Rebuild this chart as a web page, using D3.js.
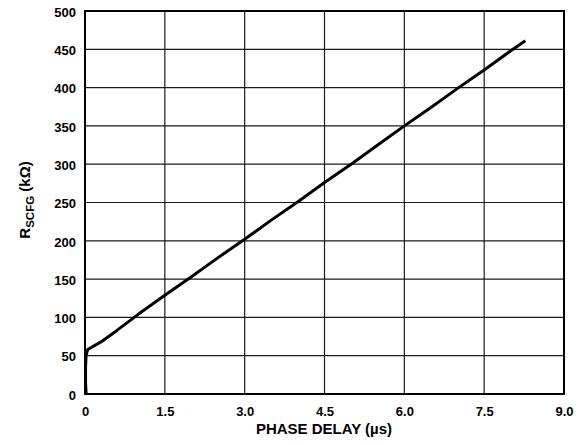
<!DOCTYPE html>
<html>
<head>
<meta charset="utf-8">
<script src="https://cdn.jsdelivr.net/npm/d3@7"></script>
<style>
html,body{margin:0;padding:0;background:#fff;}
text{font-family:"Liberation Sans",Arial,sans-serif;font-weight:bold;fill:#000;}
</style>
</head>
<body>
<svg id="chart" width="584" height="445"></svg>
<script>
const phaseDelay = [0.02, 0.01, 0.01, 0.02, 0.05, 0.3, 0.6, 1.0, 1.5, 2.0, 2.5, 3.0, 3.5, 4.0, 4.5, 5.0, 5.5, 6.0, 6.5, 7.0, 7.5, 8.0, 8.25];
const rscfg = [2, 15, 35, 50, 58, 68, 83, 104, 129, 153, 178, 202, 227, 251, 276, 300, 325, 350, 374, 399, 423, 448, 460];
const xTicks = [0, 1.5, 3.0, 4.5, 6.0, 7.5, 9.0];
const xTickLabels = ["0", "1.5", "3.0", "4.5", "6.0", "7.5", "9.0"];
const yTicks = [0, 50, 100, 150, 200, 250, 300, 350, 400, 450, 500];

const svg = d3.select("#chart");
const m = {left: 85, right: 564, top: 11, bottom: 394};
const x = d3.scaleLinear().domain([0, 9]).range([m.left, m.right]);
const y = d3.scaleLinear().domain([0, 500]).range([m.bottom, m.top]);

// gridlines
const grid = svg.append("g");
grid.selectAll("line.v").data(xTicks.slice(1, -1)).join("line")
  .attr("x1", d => x(d)).attr("x2", d => x(d))
  .attr("y1", m.top).attr("y2", m.bottom)
  .attr("stroke", "#1a1a1a").attr("stroke-width", 1.2);
grid.selectAll("line.h").data(yTicks.slice(1, -1)).join("line")
  .attr("x1", m.left).attr("x2", m.right)
  .attr("y1", d => y(d)).attr("y2", d => y(d))
  .attr("stroke", "#1a1a1a").attr("stroke-width", 1.2);

// frame
svg.append("rect").attr("x", m.left).attr("y", m.top)
  .attr("width", m.right - m.left).attr("height", m.bottom - m.top)
  .attr("fill", "none").attr("stroke", "#000").attr("stroke-width", 2);

// axes labels via d3 axes
const xAxis = d3.axisBottom(x).tickValues(xTicks).tickSize(0).tickPadding(0)
  .tickFormat((d, i) => xTickLabels[i]);
const gx = svg.append("g").attr("transform", `translate(0,${m.bottom})`).call(xAxis);
gx.select(".domain").remove();
gx.selectAll("text").attr("dy", null).attr("y", 22).attr("font-size", 13).attr("font-family", null);

const yAxis = d3.axisLeft(y).tickValues(yTicks).tickSize(0).tickPadding(0).tickFormat(d3.format("d"));
const gy = svg.append("g").attr("transform", `translate(${m.left},0)`).call(yAxis);
gy.select(".domain").remove();
gy.selectAll("text").attr("x", -9).attr("dy", "0.4em").attr("font-size", 13).attr("font-family", null);

// data line
svg.append("path").datum(rscfg)
  .attr("d", d3.line().x((d, i) => x(phaseDelay[i])).y(d => y(d)))
  .attr("fill", "none").attr("stroke", "#000").attr("stroke-width", 3)
  .attr("stroke-linejoin", "round").attr("stroke-linecap", "square");

// axis titles
svg.append("text").attr("x", 324).attr("y", 434)
  .attr("text-anchor", "middle").attr("font-size", 15).text("PHASE DELAY (µs)");

const yt = svg.append("text").attr("transform", "translate(30,200) rotate(-90)")
  .attr("text-anchor", "middle").attr("font-size", 15);
yt.append("tspan").text("R");
yt.append("tspan").attr("font-size", 11.5).attr("dy", 4).text("SCFG");
yt.append("tspan").attr("dy", -4).text(" (kΩ)");
</script>
</body>
</html>
